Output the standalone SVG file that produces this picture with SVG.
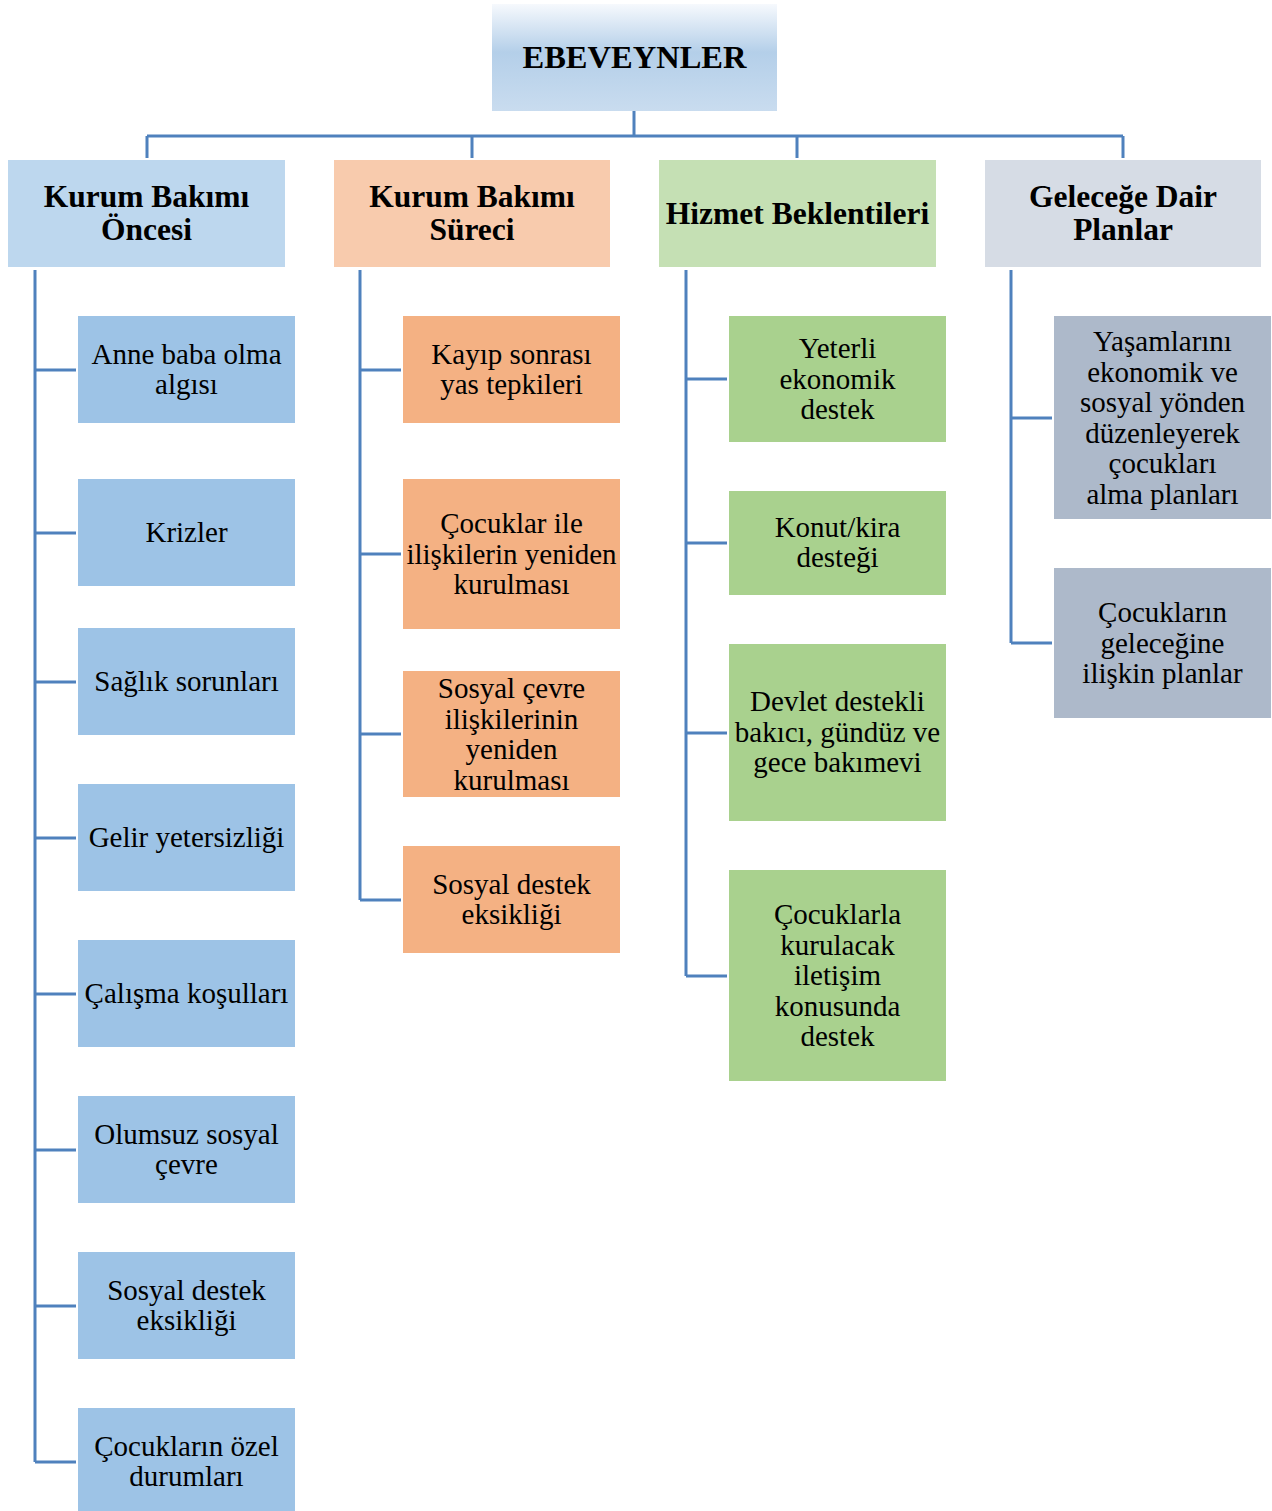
<svg xmlns="http://www.w3.org/2000/svg" width="1272" height="1511" viewBox="0 0 1272 1511">
<style>
.t{font-family:"Liberation Serif","Times New Roman",serif;font-size:29px;fill:#000;text-anchor:middle}
.h{font-family:"Liberation Serif","Times New Roman",serif;font-size:31.5px;font-weight:bold;fill:#000;text-anchor:middle}
.c{fill:none;stroke:#4f81bd;stroke-width:3}
.b1{fill:#9dc3e6}.b2{fill:#f4b183}.b3{fill:#a9d18e}.b4{fill:#adb9ca}
.h1{fill:#bdd7ee}.h2{fill:#f8cbad}.h3{fill:#c5e0b4}.h4{fill:#d6dce5}
</style>
<defs>
<linearGradient id="g" x1="0" y1="0" x2="0" y2="1">
<stop offset="0" stop-color="#f6f9fd"/>
<stop offset="0.45" stop-color="#b4cfe9"/>
<stop offset="1" stop-color="#c9dcef"/>
</linearGradient>
</defs>
<g id="connectors">
<path class="c" d="M634 111V136M147 136H1123M147 136V158M472 136V158M797 136V158M1123 136V158"/>
<path class="c" d="M35 270V1462M35 370H76M35 533H76M35 682H76M35 838H76M35 994H76M35 1150H76M35 1306H76M35 1462H76"/>
<path class="c" d="M360 270V900M360 370H401M360 554H401M360 734H401M360 900H401"/>
<path class="c" d="M686 270V976M686 379H727M686 543H727M686 733H727M686 976H727"/>
<path class="c" d="M1011 270V643M1011 418H1052M1011 643H1052"/>
</g>
<g id="root"><rect x="492" y="4" width="285" height="107" fill="url(#g)"/><text class="h" x="634.5" y="68" style="font-size:32.5px">EBEVEYNLER</text></g>
<g id="h1"><rect class="h1" x="8" y="160" width="277" height="107"/><text class="h" x="146.5" y="207">Kurum Bakımı</text><text class="h" x="146.5" y="240">Öncesi</text></g>
<g id="h2"><rect class="h2" x="334" y="160" width="276" height="107"/><text class="h" x="472" y="207">Kurum Bakımı</text><text class="h" x="472" y="240">Süreci</text></g>
<g id="h3"><rect class="h3" x="659" y="160" width="277" height="107"/><text class="h" x="797.5" y="224">Hizmet Beklentileri</text></g>
<g id="h4"><rect class="h4" x="985" y="160" width="276" height="107"/><text class="h" x="1123" y="207">Geleceğe Dair</text><text class="h" x="1123" y="240">Planlar</text></g>

<g id="c1n1"><rect class="b1" x="78" y="316" width="217" height="107"/><text class="t" x="186.5" y="364">Anne baba olma</text><text class="t" x="186.5" y="394">algısı</text></g>
<g id="c1n2"><rect class="b1" x="78" y="479" width="217" height="107"/><text class="t" x="186.5" y="542">Krizler</text></g>
<g id="c1n3"><rect class="b1" x="78" y="628" width="217" height="107"/><text class="t" x="186.5" y="691">Sağlık sorunları</text></g>
<g id="c1n4"><rect class="b1" x="78" y="784" width="217" height="107"/><text class="t" x="186.5" y="847">Gelir yetersizliği</text></g>
<g id="c1n5"><rect class="b1" x="78" y="940" width="217" height="107"/><text class="t" x="186.5" y="1003">Çalışma koşulları</text></g>
<g id="c1n6"><rect class="b1" x="78" y="1096" width="217" height="107"/><text class="t" x="186.5" y="1144">Olumsuz sosyal</text><text class="t" x="186.5" y="1174">çevre</text></g>
<g id="c1n7"><rect class="b1" x="78" y="1252" width="217" height="107"/><text class="t" x="186.5" y="1300">Sosyal destek</text><text class="t" x="186.5" y="1330">eksikliği</text></g>
<g id="c1n8"><rect class="b1" x="78" y="1408" width="217" height="107"/><text class="t" x="186.5" y="1456">Çocukların özel</text><text class="t" x="186.5" y="1486">durumları</text></g>

<g id="c2n1"><rect class="b2" x="403" y="316" width="217" height="107"/><text class="t" x="511.5" y="364">Kayıp sonrası</text><text class="t" x="511.5" y="394">yas tepkileri</text></g>
<g id="c2n2"><rect class="b2" x="403" y="479" width="217" height="150"/><text class="t" x="511.5" y="533">Çocuklar ile</text><text class="t" x="511.5" y="563.5">ilişkilerin yeniden</text><text class="t" x="511.5" y="594">kurulması</text></g>
<g id="c2n3"><rect class="b2" x="403" y="671" width="217" height="126"/><text class="t" x="511.5" y="698">Sosyal çevre</text><text class="t" x="511.5" y="728.5">ilişkilerinin</text><text class="t" x="511.5" y="759">yeniden</text><text class="t" x="511.5" y="789.5">kurulması</text></g>
<g id="c2n4"><rect class="b2" x="403" y="846" width="217" height="107"/><text class="t" x="511.5" y="894">Sosyal destek</text><text class="t" x="511.5" y="924">eksikliği</text></g>

<g id="c3n1"><rect class="b3" x="729" y="316" width="217" height="126"/><text class="t" x="837.5" y="358">Yeterli</text><text class="t" x="837.5" y="388.5">ekonomik</text><text class="t" x="837.5" y="419">destek</text></g>
<g id="c3n2"><rect class="b3" x="729" y="491" width="217" height="104"/><text class="t" x="837.5" y="537">Konut/kira</text><text class="t" x="837.5" y="567">desteği</text></g>
<g id="c3n3"><rect class="b3" x="729" y="644" width="217" height="177"/><text class="t" x="837.5" y="711">Devlet destekli</text><text class="t" x="837.5" y="741.5">bakıcı, gündüz ve</text><text class="t" x="837.5" y="772">gece bakımevi</text></g>
<g id="c3n4"><rect class="b3" x="729" y="870" width="217" height="211"/><text class="t" x="837.5" y="924">Çocuklarla</text><text class="t" x="837.5" y="954.5">kurulacak</text><text class="t" x="837.5" y="985">iletişim</text><text class="t" x="837.5" y="1015.5">konusunda</text><text class="t" x="837.5" y="1046">destek</text></g>

<g id="c4n1"><rect class="b4" x="1054" y="316" width="217" height="203"/><text class="t" x="1162.5" y="351">Yaşamlarını</text><text class="t" x="1162.5" y="381.5">ekonomik ve</text><text class="t" x="1162.5" y="412">sosyal yönden</text><text class="t" x="1162.5" y="442.5">düzenleyerek</text><text class="t" x="1162.5" y="473">çocukları</text><text class="t" x="1162.5" y="503.5">alma planları</text></g>
<g id="c4n2"><rect class="b4" x="1054" y="568" width="217" height="150"/><text class="t" x="1162.5" y="622">Çocukların</text><text class="t" x="1162.5" y="652.5">geleceğine</text><text class="t" x="1162.5" y="683">ilişkin planlar</text></g>
</svg>
